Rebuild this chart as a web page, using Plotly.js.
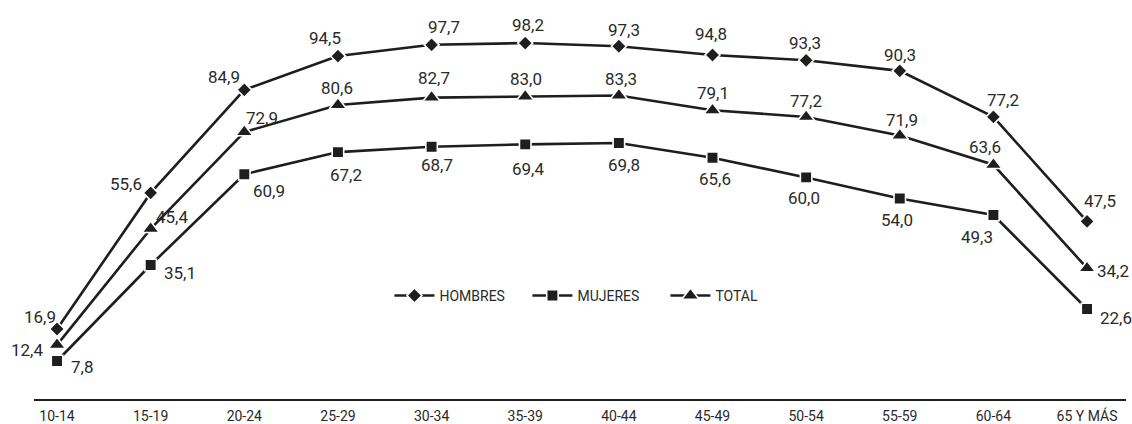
<!DOCTYPE html>
<html>
<head>
<meta charset="utf-8">
<script src="https://cdn.plot.ly/plotly-3.0.1.min.js"></script>
<style>
  html, body { margin: 0; padding: 0; background: #fff; }
  #chart { width: 1132px; height: 424px; }
</style>
</head>
<body>
<div id="chart"></div>
<script>
// Age groups
const categories = ['10-14', '15-19', '20-24', '25-29', '30-34', '35-39',
                    '40-44', '45-49', '50-54', '55-59', '60-64', '65 Y MÁS'];

// Participation rate by sex (%)
const hombres = [16.9, 55.6, 84.9, 94.5, 97.7, 98.2, 97.3, 94.8, 93.3, 90.3, 77.2, 47.5];
const mujeres = [7.8, 35.1, 60.9, 67.2, 68.7, 69.4, 69.8, 65.6, 60.0, 54.0, 49.3, 22.6];
const total   = [12.4, 45.4, 72.9, 80.6, 82.7, 83.0, 83.3, 79.1, 77.2, 71.9, 63.6, 34.2];

// Label offsets in pixels [dx, dy] (dy downward), one per point
const offHombres = [[-17,-12],[-25,-9],[-20,-13],[-13,-18],[12,-18],[3,-18],[5,-16],[-2,-21],[-1,-17],[0,-16],[10,-17],[13,-20]];
const offMujeres = [[25,6],[29,8],[25,17],[8,23],[5,18],[3,25],[5,22],[2,21],[-2,21],[-3,21],[-16,22],[29,9]];
const offTotal   = [[-30,5],[21,-12],[18,-14],[-1,-17],[2,-20],[1,-18],[2,-16],[0,-17],[0,-16],[2,-16],[-8,-18],[26,3]];

const INK = '#1e1e1e';
const FONT = 'Roboto, "DejaVu Sans Condensed", sans-serif';
const idx = categories.map((_, i) => i);

function series(name, values, symbol, size) {
  return {
    type: 'scatter',
    mode: 'lines+markers',
    name: name,
    x: idx,
    y: values,
    line: { color: INK, width: 2.6 },
    marker: { symbol: symbol, size: size, color: INK, line: { color: '#ffffff', width: 1.6 } },
    cliponaxis: false,
    hoverinfo: 'skip'
  };
}

const traces = [
  series('HOMBRES', hombres, 'diamond', 11.5),
  series('MUJERES', mujeres, 'square', 11.5),
  series('TOTAL', total, 'triangle-up', 15)
];

function fmt(v) { return v.toFixed(1).replace('.', ','); }

const annotations = [];
[[hombres, offHombres], [mujeres, offMujeres], [total, offTotal]].forEach(([vals, offs]) => {
  vals.forEach((v, i) => {
    annotations.push({
      x: i, y: v, xref: 'x', yref: 'y',
      text: fmt(v), showarrow: false,
      xanchor: 'center', yanchor: 'middle',
      xshift: offs[i][0], yshift: -offs[i][1],
      font: { family: FONT, size: 17, color: '#2a2a2a' }
    });
  });
});

const layout = {
  width: 1132,
  height: 424,
  margin: { l: 34, r: 6, t: 10, b: 25 },
  paper_bgcolor: '#ffffff',
  plot_bgcolor: '#ffffff',
  showlegend: true,
  legend: {
    orientation: 'h',
    x: 0.3255, y: 0.265, xanchor: 'left', yanchor: 'middle',
    font: { family: FONT, size: 14, color: '#2a2a2a' },
    bgcolor: 'rgba(0,0,0,0)',
    itemwidth: 40,
    entrywidth: 83,
    entrywidthmode: 'pixels'
  },
  xaxis: {
    range: [-0.246, 11.416],
    tickmode: 'array',
    tickvals: idx,
    ticktext: categories,
    showgrid: false,
    zeroline: false,
    showline: true,
    linecolor: INK,
    linewidth: 2,
    ticks: '',
    ticklabelstandoff: 3,
    tickfont: { family: FONT, size: 14, color: '#2a2a2a' },
    fixedrange: true
  },
  yaxis: {
    range: [-3.0, 107.6],
    visible: false,
    showgrid: false,
    zeroline: false,
    fixedrange: true
  },
  annotations: annotations
};

Plotly.newPlot('chart', traces, layout, { displayModeBar: false, staticPlot: true });
</script>
</body>
</html>
